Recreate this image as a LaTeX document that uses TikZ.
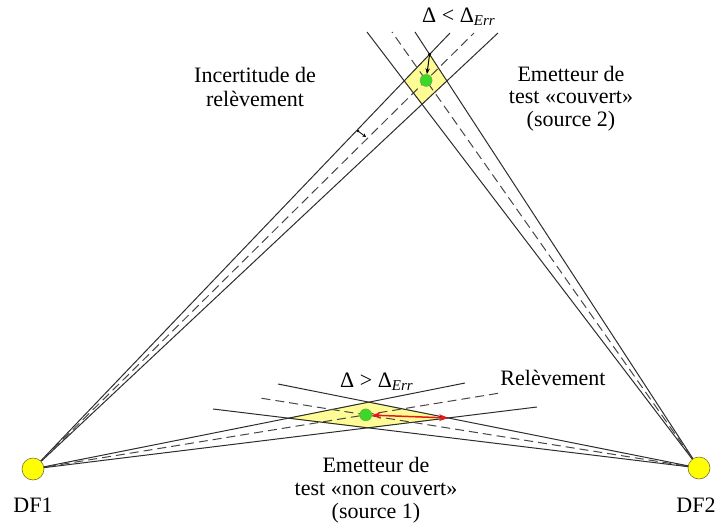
\documentclass[tikz,border=0pt]{standalone}
\usepackage{fontspec}
\setmainfont{Liberation Serif}
\usetikzlibrary{arrows.meta}
\definecolor{lineC}{RGB}{45,45,45}
\definecolor{dashC}{RGB}{70,70,70}
\definecolor{zoneC}{RGB}{255,252,150}
\definecolor{zoneE}{RGB}{170,160,60}
\definecolor{dotC}{RGB}{60,215,40}
\definecolor{dotE}{RGB}{90,170,60}
\definecolor{dfC}{RGB}{255,255,0}
\definecolor{dfE}{RGB}{120,115,60}
\definecolor{redC}{RGB}{230,25,25}
\tikzset{
  bound/.style={draw=lineC, line width=1pt},
  bearing/.style={draw=dashC, line width=1pt, dash pattern=on 9pt off 5pt},
  zone/.style={fill=zoneC, draw=zoneE, line width=0.4pt},
  emitter/.style={circle, fill=dotC, draw=dotE, line width=0.4pt, minimum size=12pt, inner sep=0},
  station/.style={circle, fill=dfC, draw=dfE, line width=0.6pt, minimum size=22pt, inner sep=0},
  lbl/.style={font=\fontsize{22}{23}\selectfont, align=center, inner sep=0},
}
\newcommand{\errsub}{\raisebox{-0.3ex}{\fontsize{15}{15}\selectfont\itshape Err}}
\begin{document}
\begin{tikzpicture}[x=1pt,y=-1pt]
\useasboundingbox (0,0) rectangle (718,528);
% stations
\coordinate (S1) at (33,469);
\coordinate (S2) at (699,468);
% top beams: DF1 (A), DF2 (B)
\coordinate (AL) at (450,33);
\coordinate (AD) at (474,33);
\coordinate (AR) at (498,33);
\coordinate (BL) at (367,32);
\coordinate (BD) at (392,32);
\coordinate (BR) at (415,32);
% bottom beams: DF1 (C), DF2 (D)
\coordinate (CU) at (465,383);
\coordinate (CD) at (500,393);
\coordinate (CL) at (537,407);
\coordinate (DU) at (278,384);
\coordinate (DD) at (260,398);
\coordinate (DL) at (213,409);
% intersection zones
\coordinate (t1) at (intersection of S1--AL and S2--BL);
\coordinate (t2) at (intersection of S1--AL and S2--BR);
\coordinate (t3) at (intersection of S1--AR and S2--BR);
\coordinate (t4) at (intersection of S1--AR and S2--BL);
\coordinate (b1) at (intersection of S1--CU and S2--DU);
\coordinate (b2) at (intersection of S1--CU and S2--DL);
\coordinate (b3) at (intersection of S1--CL and S2--DL);
\coordinate (b4) at (intersection of S1--CL and S2--DU);
\coordinate (tc) at (intersection of S1--AD and S2--BD);
\coordinate (bc) at (intersection of S1--CD and S2--DD);
\path[zone] (t1) -- (t2) -- (t3) -- (t4) -- cycle;
\path[zone] (b1) -- (b2) -- (b3) -- (b4) -- cycle;
% beams
\draw[bound] (S1) -- (AL);
\draw[bound] (S1) -- (AR);
\draw[bearing] (S1) -- (AD);
\draw[bound] (S2) -- (BL);
\draw[bound] (S2) -- (BR);
\draw[bearing] (S2) -- (BD);
\draw[bound] (S1) -- (CU);
\draw[bound] (S1) -- (CL);
\draw[bearing] (S1) -- (CD);
\draw[bound] (S2) -- (DU);
\draw[bound] (S2) -- (DL);
\draw[bearing] (S2) -- (DD);
% emitters
\node[emitter] (E2) at (tc) {};
\node[emitter] (E1) at (bc) {};
% delta arrows
\fill[black] (t2) circle (1.6pt);
\draw[black, line width=1pt, -{Stealth[length=6pt,width=4.5pt]}] (t2) -- (E2);
\draw[redC, line width=1.5pt, {Stealth[length=9pt,width=7pt]}-{Stealth[length=9pt,width=7pt]}] (E1) -- (b4);
% uncertainty mark
\coordinate (u1) at (358,131);
\coordinate (u2) at (366,137);
\fill[black] (u1) circle (1.4pt);
\draw[black, line width=0.8pt, -{Stealth[length=3.5pt,width=3.5pt]}] (u1) -- (u2);
% stations
\node[station] (DF1) at (S1) {};
\node[station] (DF2) at (S2) {};
% labels
\node[lbl, anchor=base] (l1) at (33,512) {DF1};
\node[lbl, anchor=base] (l2) at (696,512) {DF2};
\node[lbl, anchor=base] (lr) at (553,385) {Relèvement};
\node[lbl, anchor=base west] (ld1) at (422,22) {Δ < Δ\errsub};
\node[lbl, anchor=base west] (ld2) at (340,387) {Δ > Δ\errsub};
\node[lbl, font=\fontsize{22}{24.5}\selectfont, anchor=north] (li) at (255,67) {Incertitude de\\relèvement};
\node[lbl, font=\fontsize{22}{22.5}\selectfont, anchor=north] (le2) at (571,66) {Emetteur de\\test «couvert»\\(source 2)};
\node[lbl, anchor=north] (le1) at (376,457) {Emetteur de\\test «non couvert»\\(source 1)};
\end{tikzpicture}
\end{document}
